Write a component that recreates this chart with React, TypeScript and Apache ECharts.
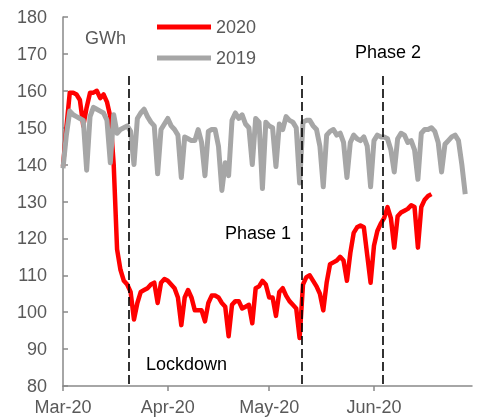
import React, { useEffect, useRef } from "react";
import * as echarts from "echarts";

const monthLabels = ["Mar-20", "Apr-20", "May-20", "Jun-20"];
const monthStartDays = [0, 31, 61, 92];
const lastDay = 121;

const values2020 = [
  139.5, 150, 159.5, 159.5, 159, 157.5, 150.5, 155.5, 159.5, 159.5,
  160, 158, 159, 157, 153, 140, 117, 111.5, 108.5, 107.5,
  105.5, 98, 102.5, 105.5, 106, 106.5, 107.5, 108, 102.5, 108,
  109, 108.5, 107.5, 106.5, 104, 96.5, 104, 106, 104, 100.5,
  100.5, 100.5, 97.5, 102.5, 104.5, 104.5, 104, 102.5, 101.5, 93.5,
  102, 103, 103, 101, 101.5, 102, 97, 106.5, 107, 108.5,
  107.5, 104, 104, 99, 105.5, 106.5, 104.5, 103, 102, 101,
  93, 107.5, 109.5, 110, 108.5, 107, 105, 100.5, 108, 113,
  113.5, 114, 115, 114, 108.5, 116, 121.5, 123, 123.5, 123,
  115.5, 108, 118, 122, 124, 125.5, 128.5, 125.5, 117.5, 126,
  127, 127.5, 128, 129, 128.5, 117.5, 128.5, 130.5, 131.5, 132,
];

const values2019 = [
  139, 148, 154.5, 153.5, 153, 152.5, 152, 138.5, 153, 155.5,
  155, 154.5, 154, 152, 140.5, 153.5, 148.5, 149.5, 150, 150.5,
  149, 140, 152.5, 154, 155, 153, 151.5, 150.5, 137.5, 149.5,
  151, 152.5, 150.5, 149.5, 148, 136.5, 147.5, 147, 146.5, 146.5,
  149.5, 146, 137, 149, 149.5, 149.5, 145, 133, 140.5, 137,
  152, 154, 152.5, 153.5, 151, 150, 140, 152.5, 151.5, 133.5,
  151.5, 150.5, 150, 139.5, 151, 149.5, 153, 152, 151.5, 150,
  135, 151.5, 152, 152, 150.5, 149.5, 145, 134, 148, 149,
  149.5, 148, 148.5, 146, 136.5, 146, 148, 147, 146.5, 147.5,
  145, 134, 146.5, 148, 147.5, 147.5, 147, 144, 138, 147,
  148.5, 148, 146, 146.5, 144, 136, 148.5, 149.5, 149.5, 150,
  149, 146, 138, 145.5, 146.5, 147.5, 148, 146.5, 140, 132,
];

const eventNames = ["Lockdown", "Phase 1", "Phase 2"];
const eventDays = [19.5, 70.7, 94.5];
const eventTop = 164;

const FONT = "'Liberation Sans', Arial, sans-serif";
const RED = "#FF0000";
const GREY = "#A6A6A6";

export default function App() {
  const ref = useRef<HTMLDivElement>(null);

  useEffect(() => {
    if (!ref.current) return;
    const chart = echarts.init(ref.current, undefined, { renderer: "svg" });
    const toPairs = (arr: number[]) => arr.map((v, i) => [i, v]);

    chart.setOption({
      animation: false,
      textStyle: { fontFamily: FONT },
      grid: { left: 63, right: 5, top: 17, bottom: 31, containLabel: false },
      legend: {
        data: [
          { name: "2020", icon: "rect", itemStyle: { color: RED } },
          { name: "2019", icon: "rect", itemStyle: { color: GREY } },
        ],
        orient: "vertical",
        left: 157,
        top: 18,
        padding: 0,
        itemWidth: 54,
        itemHeight: 5,
        itemGap: 13,
        textStyle: { fontSize: 18, color: "#595959", fontFamily: FONT, lineHeight: 18 },
      },
      xAxis: {
        type: "value",
        min: 0,
        max: lastDay,
        splitLine: { show: false },
        axisLine: { show: true, lineStyle: { color: "#898989", width: 1.5 } },
        axisTick: {
          show: true,
          inside: false,
          length: 5,
          customValues: monthStartDays,
          lineStyle: { color: "#898989", width: 1.5 },
        },
        axisLabel: {
          customValues: monthStartDays,
          fontSize: 18,
          color: "#595959",
          fontFamily: FONT,
          margin: 12,
          formatter: (v: number) => {
            const idx = monthStartDays.indexOf(Math.round(v));
            return idx >= 0 ? monthLabels[idx] : "";
          },
        },
      },
      yAxis: {
        type: "value",
        min: 80,
        max: 180,
        interval: 10,
        splitLine: { show: false },
        axisLine: { show: true, lineStyle: { color: "#898989", width: 1.5 } },
        axisTick: { show: true, inside: true, length: 5, lineStyle: { color: "#898989", width: 1.5 } },
        axisLabel: { fontSize: 18, color: "#595959", fontFamily: FONT, margin: 16 },
      },
      series: [
        {
          name: "2020",
          type: "line",
          data: toPairs(values2020),
          symbol: "none",
          lineStyle: { color: RED, width: 4.5, join: "round" },
          itemStyle: { color: RED },
        },
        {
          name: "2019",
          type: "line",
          data: toPairs(values2019),
          symbol: "none",
          lineStyle: { color: GREY, width: 5, join: "round" },
          itemStyle: { color: GREY },
          markLine: {
            silent: true,
            symbol: ["none", "none"],
            label: { show: false },
            lineStyle: { color: "#000000", type: [9, 4], width: 1.6 },
            data: eventDays.map((d) => [
              { coord: [d, eventTop] },
              { coord: [d, 80] },
            ]),
          },
        },
      ],
      graphic: [
        {
          type: "text",
          left: 85,
          top: 29,
          style: { text: "GWh", fontSize: 18, fill: "#595959", fontFamily: FONT },
        },
        {
          type: "text",
          left: 146,
          top: 355,
          style: { text: eventNames[0], fontSize: 18, fill: "#000000", fontFamily: FONT },
        },
        {
          type: "text",
          left: 225,
          top: 224,
          style: { text: eventNames[1], fontSize: 18, fill: "#000000", fontFamily: FONT },
        },
        {
          type: "text",
          left: 355,
          top: 43,
          style: { text: eventNames[2], fontSize: 18, fill: "#000000", fontFamily: FONT },
        },
      ],
    });

    return () => chart.dispose();
  }, []);

  return (
    <div
      ref={ref}
      style={{ position: "fixed", left: 0, top: 0, width: 477, height: 417 }}
    />
  );
}
